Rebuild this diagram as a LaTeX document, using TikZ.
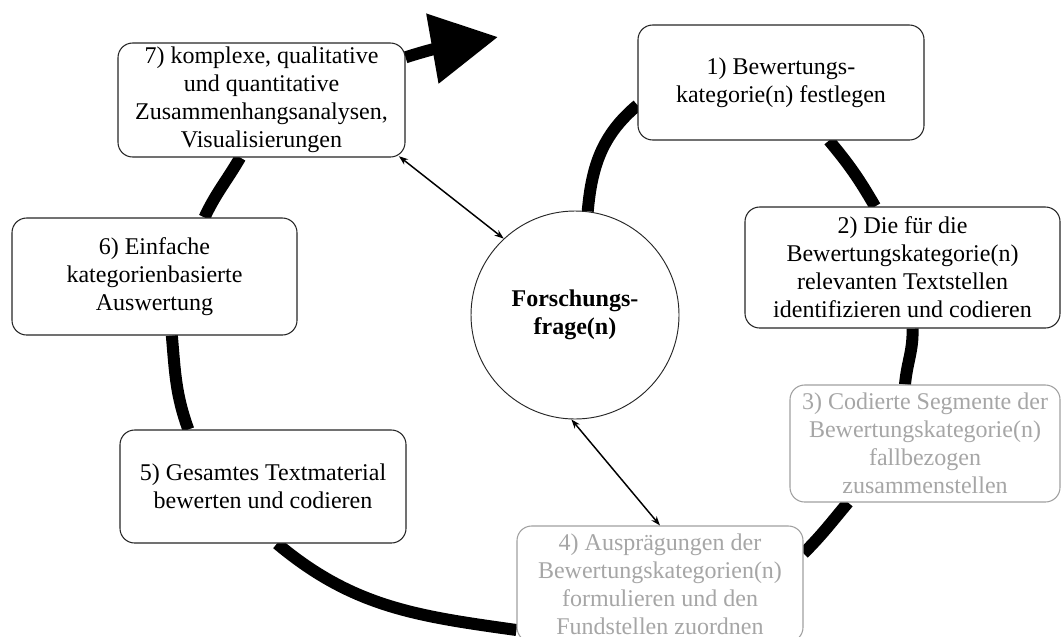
\documentclass[tikz,border=0pt]{standalone}
\usepackage{fontspec}
\setmainfont{Liberation Serif}
\usetikzlibrary{arrows.meta,backgrounds}
\definecolor{grtxt}{HTML}{A6A6A6}
\definecolor{grline}{HTML}{A0A0A0}
\begin{document}
\begin{tikzpicture}[x=0.75pt,y=-0.75pt,
  box/.style={draw=black!85, line width=0.8pt, rounded corners=11pt, fill=white,
    align=center, inner sep=0pt, font=\fontsize{18}{21}\selectfont},
  greybox/.style={box, draw=grline, text=grtxt},
  spiral/.style={line width=9pt, black},
  link/.style={line width=1.1pt, {Stealth[length=7pt,width=5pt]}-{Stealth[length=7pt,width=5pt]}}
]
\useasboundingbox (0,0) rectangle (1062,636);
\clip (0,0) rectangle (1062,636);

\node[draw=black!85, line width=0.7pt, circle, fill=white, minimum size=156pt, inner sep=0pt,
  align=center, font=\fontsize{18}{21}\selectfont\bfseries] (circ) at (575,315) {Forschungs-\\frage(n)};

\node[box, minimum width=214.5pt, minimum height=86.25pt] (b1) at (781,82.5)
  {1) Bewertungs-\\kategorie(n) festlegen};
\node[box, minimum width=236.25pt, minimum height=90.75pt] (b2) at (902.5,267.5)
  {2) Die für die\\Bewertungskategorie(n)\\relevanten Textstellen\\identifizieren und codieren};
\node[greybox, minimum width=202.5pt, minimum height=87.75pt] (b3) at (925,443.5)
  {3) Codierte Segmente der\\Bewertungskategorie(n)\\fallbezogen\\zusammenstellen};
\node[greybox, minimum width=214.5pt, minimum height=87pt] (b4) at (660,584)
  {4) Ausprägungen der\\Bewertungskategorien(n)\\formulieren und den\\Fundstellen zuordnen};
\node[box, minimum width=214.5pt, minimum height=84.75pt] (b5) at (263,486.5)
  {5) Gesamtes Textmaterial\\bewerten und codieren};
\node[box, minimum width=213.75pt, minimum height=87.75pt] (b6) at (154.5,276.5)
  {6) Einfache\\kategorienbasierte\\Auswertung};
\node[box, minimum width=215.25pt, minimum height=85.5pt] (b7) at (261.5,100)
  {7) komplexe, qualitative\\und quantitative\\Zusammenhangsanalysen,\\Visualisierungen};

\coordinate (tip) at (498,37);

\begin{pgfonlayer}{background}
  \draw[spiral] (circ.83) to[out=85,in=220] ([yshift=-17pt]b1.west);
  \draw[spiral] ([xshift=36pt]b1.south) to[out=-50,in=120] ([xshift=-20.6pt]b2.north);
  \draw[spiral] ([xshift=7.5pt]b2.south) to[out=-88,in=85] ([xshift=-15pt]b3.north);
  \draw[spiral] ([xshift=-57.75pt]b3.south) to[out=-130,in=45] ([yshift=23pt]b4.east);
  \draw[spiral] ([yshift=-34.5pt]b4.west) to[out=172,in=-40] ([xshift=10.5pt]b5.south);
  \draw[spiral] ([xshift=-56pt]b5.north) to[out=110,in=-85] ([xshift=13pt]b6.south);
  \draw[spiral] ([xshift=37.5pt]b6.north) to[out=65,in=-120] ([xshift=-16pt]b7.south);
  \draw[spiral, -{Triangle[length=50pt,width=51pt]}] ([yshift=32pt]b7.east) to[out=18,in=190] (tip);
\end{pgfonlayer}

\draw[link] ([xshift=-5pt,yshift=1pt]b7.south east) -- (circ.133);
\draw[link] (circ.-92) -- (b4.north);
\end{tikzpicture}
\end{document}
